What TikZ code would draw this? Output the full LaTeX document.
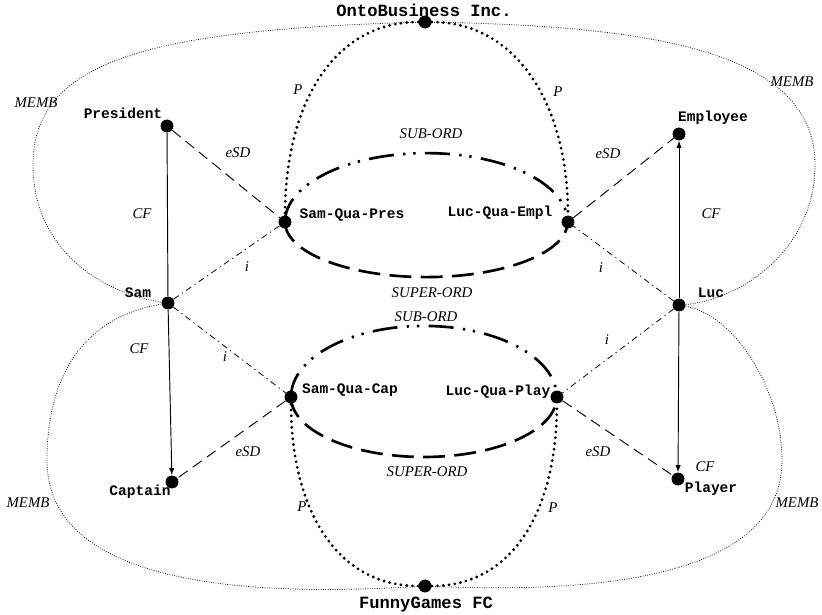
\documentclass[tikz,border=0pt]{standalone}
\usepackage{fontspec}
\setmainfont{Liberation Serif}
\setmonofont{Liberation Mono}
\usepackage{tikz}
\usetikzlibrary{arrows.meta}
\tikzset{
  pnt/.style={circle,fill=black,inner sep=0pt,minimum size=2.9mm},
  nm/.style={font=\fontsize{9.3}{11}\selectfont\ttfamily\bfseries,inner sep=0pt},
  org/.style={font=\fontsize{11}{13}\selectfont\ttfamily\bfseries,inner sep=0pt},
  rel/.style={font=\fontsize{9.5}{11}\selectfont\itshape,inner sep=0pt},
  cf/.style={line width=0.6pt},
  cfa/.style={cf,-{Latex[length=1.6mm,width=1.2mm]}},
  esd/.style={line width=0.6pt,dash pattern=on 7pt off 4pt},
  ins/.style={line width=0.5pt,dash pattern=on 4pt off 2.5pt on 0.8pt off 2.5pt},
  prt/.style={line width=2pt,line cap=round,dash pattern=on 0pt off 3.7pt},
  memb/.style={line width=0.5pt,dash pattern=on 0.5pt off 1pt},
  sub/.style={line width=1.7pt,dash pattern=on 16pt off 6pt on 1.5pt off 5pt on 1.5pt off 6pt},
  sup/.style={line width=1.7pt,dash pattern=on 14pt off 6pt}
}
\begin{document}
\begin{tikzpicture}[x=0.0225cm,y=-0.0225cm]
\useasboundingbox (0,0) rectangle (822,615);
% individuals, qua-individuals and organisations
\foreach \n/\x/\y in {onto/425/22,fg/425/586,pres/167/126,empl/679/134,
  sqp/285/222,lqe/568/222,sam/168/303,luc/679/305,
  sqc/291/397,lqp/557/397,cap/172/482,play/678/479}
  {\node[pnt] (\n) at (\x,\y) {};}
\node[org] (onto-t) at (424,10) {OntoBusiness Inc.};
\node[org] (fg-t) at (426,605) {FunnyGames FC};
\foreach \n/\x/\y/\t in {pres-t/123/113/President,empl-t/713/118/Employee,
  sqp-t/352/215/Sam-Qua-Pres,lqe-t/500/213/Luc-Qua-Empl,
  sam-t/138/293/Sam,luc-t/711/293/Luc,
  sqc-t/350/390/Sam-Qua-Cap,lqp-t/498/392/Luc-Qua-Play,
  cap-t/140/492/Captain,play-t/711/489/Player}
  {\node[nm] (\n) at (\x,\y) {\t};}
% CF
\draw[cf] (pres) -- (sam);
\draw[cfa] (sam) -- (cap);
\draw[cfa] (luc) -- (empl);
\draw[cfa] (luc) -- (play);
% eSD and i
\foreach \a/\b in {pres/sqp,sqc/cap,lqe/empl,lqp/play}{\draw[esd] (\a) -- (\b);}
\foreach \a/\b in {sam/sqp,sam/sqc,luc/lqe,luc/lqp}{\draw[ins] (\a) -- (\b);}
% P
\draw[prt] (onto) .. controls +(-90,0) and +(0,-120) .. (sqp);
\draw[prt] (onto) .. controls +(90,0) and +(0,-120) .. (lqe);
\draw[prt] (fg) .. controls +(-90,0) and +(0,110) .. (sqc);
\draw[prt] (fg) .. controls +(90,0) and +(0,110) .. (lqp);
% SUB-ORD / SUPER-ORD
\draw[sub] (sqp.center) arc[start angle=180,end angle=0,x radius=3.18cm,y radius=1.55cm];
\draw[sup] (sqp.center) arc[start angle=180,end angle=360,x radius=3.18cm,y radius=1.24cm];
\draw[sub] (sqc.center) arc[start angle=180,end angle=0,x radius=2.99cm,y radius=1.6cm];
\draw[sup] (sqc.center) arc[start angle=180,end angle=360,x radius=2.99cm,y radius=1.35cm];
% MEMB
\coordinate (wtop) at (33,165);
\coordinate (etop) at (815,165);
\coordinate (wbot) at (47,460);
\coordinate (ebot) at (782,460);
\draw[memb] (onto) .. controls (150,30) and (33,60) .. (wtop)
  .. controls (33,255) and (110,295) .. (sam);
\draw[memb] (onto) .. controls (650,26) and (815,50) .. (etop)
  .. controls (815,250) and (740,300) .. (luc);
\draw[memb] (sam) .. controls (80,318) and (47,380) .. (wbot)
  .. controls (47,570) and (200,600) .. (fg);
\draw[memb] (luc) .. controls (735,315) and (782,390) .. (ebot)
  .. controls (782,560) and (650,596) .. (fg);
% relation labels
\foreach \n/\x/\y/\t in {memb1/36/103/MEMB,memb2/792/82/MEMB,memb3/28/503/MEMB,memb4/797/503/MEMB,
  p1/298/90/P,p2/558/92/P,p3/302/507/P,p4/553/508/P,
  esd1/238/153/eSD,esd2/608/154/eSD,esd3/248/452/eSD,esd4/598/452/eSD,
  cf1/142/214/CF,cf2/711/214/CF,cf3/139/349/CF,cf4/705/467/CF,
  i1/247/267/i,i2/601/268/i,i3/225/357/i,i4/607/340/i,
  sub1/431/134/SUB-ORD,sup1/432/293/SUPER-ORD,sub2/426/317/SUB-ORD,sup2/427/472/SUPER-ORD}
  {\node[rel] (\n) at (\x,\y) {\t};}
\end{tikzpicture}
\end{document}
